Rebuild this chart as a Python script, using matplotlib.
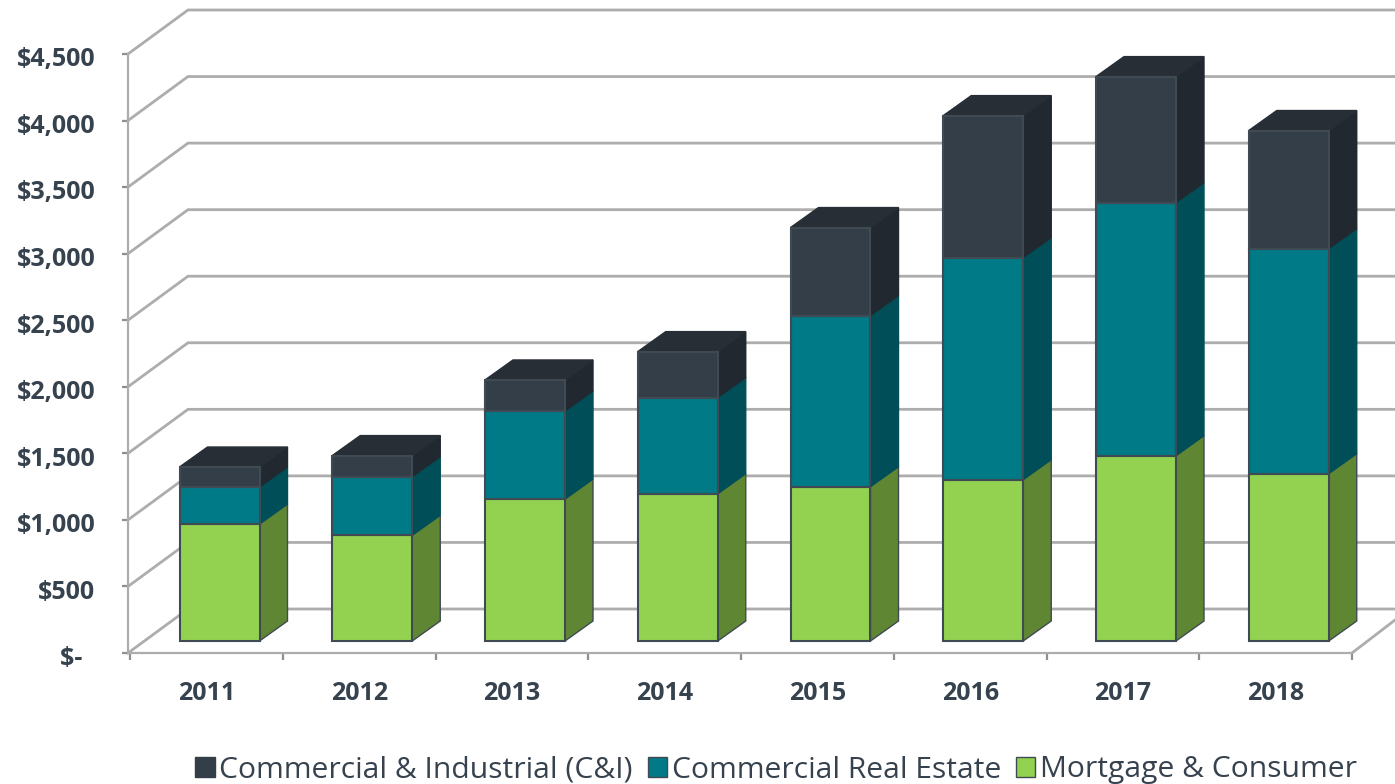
import matplotlib
matplotlib.use("Agg")
import matplotlib.pyplot as plt
from matplotlib.patches import Polygon, Patch
from matplotlib.transforms import ScaledTranslation

years = ["2011", "2012", "2013", "2014", "2015", "2016", "2017", "2018"]
mortgage = [879, 795, 1067, 1107, 1160, 1213, 1393, 1258]
cre = [278, 440, 661, 722, 1285, 1668, 1901, 1690]
cni = [150, 158, 233, 345, 661, 1066, 946, 887]
series_names = ["Mortgage & Consumer", "Commercial Real Estate", "Commercial & Industrial (C&I)"]
y_ticks = [0, 500, 1000, 1500, 2000, 2500, 3000, 3500, 4000, 4500]
y_labels = ["$-  ", "$500", "$1,000", "$1,500", "$2,000", "$2,500", "$3,000", "$3,500", "$4,000", "$4,500"]

W, H = 1395, 784
L, R, B, T = 130, 1352, 653, 54
TEXT = "#36424e"
GRID = "#adadad"
front = ["#93d250", "#007a87", "#343e49"]
side = ["#5f8733", "#004f58", "#21282f"]
top_col = "#272e36"
edge = "#3f4a52"

fig = plt.figure(figsize=(W / 100, H / 100), dpi=100, facecolor="white")
ax = fig.add_axes([L / W, 1 - B / H, (R - L) / W, (B - T) / H])
ax.set_xlim(0, len(years))
ax.set_ylim(0, 4500)
sx = (R - L) / len(years)
sy = (B - T) / 4500
px = lambda d: d / sx
py = lambda d: d / sy

# walls
wall_dx, wall_dy = px(58), py(44)
for v in y_ticks:
    ax.plot([px(-2), wall_dx, px(1395 - L)], [v, v + wall_dy, v + wall_dy],
            color=GRID, lw=2.0, clip_on=False, zorder=1, solid_joinstyle="miter")
ax.plot([len(years), len(years) + px(43)], [0, py(33)], color=GRID, lw=2.0, clip_on=False, zorder=1)

# bars
bar_left, bar_w = px(49.5), px(80)
base = py(12)
dx, dy = px(28), py(20)
for i in range(len(years)):
    x0 = i + bar_left
    x1 = x0 + bar_w
    bottom = base
    for j, vals in enumerate([mortgage, cre, cni]):
        h = vals[i]
        y0, y1 = bottom, bottom + h
        ax.add_patch(Polygon([(x1, y0), (x1 + dx, y0 + dy), (x1 + dx, y1 + dy), (x1, y1)],
                             fc=side[j], ec=edge if j == 0 else side[j], lw=1.0, clip_on=False, zorder=3 + j * 0.1))
        ax.add_patch(Polygon([(x0, y0), (x1, y0), (x1, y1), (x0, y1)],
                             fc=front[j], ec=edge, lw=1.5, clip_on=False, zorder=4 + j * 0.1))
        bottom = y1
    ax.add_patch(Polygon([(x0, bottom), (x1, bottom), (x1 + dx, bottom + dy), (x0 + dx, bottom + dy)],
                         fc=top_col, ec=top_col, lw=1.0, clip_on=False, zorder=3.9))

# axes
for s in ["top", "right"]:
    ax.spines[s].set_visible(False)
ax.spines["left"].set_position(("outward", 1.5))
for s in ["left", "bottom"]:
    ax.spines[s].set_color(GRID)
    ax.spines[s].set_linewidth(1.6)
    ax.spines[s].set_zorder(2)
ax.set_yticks(y_ticks)
ax.set_yticklabels(y_labels, fontfamily="Open Sans", fontweight="bold", fontsize=18, color=TEXT)
ax.tick_params(axis="y", length=4.5, width=1.6, color="#8f8f8f", pad=19)
for lab in ax.get_yticklabels():
    lab.set_transform(lab.get_transform() + ScaledTranslation(0, -2 / 72, fig.dpi_scale_trans))
ax.set_xticks(range(len(years) + 1))
ax.set_xticklabels([""] * (len(years) + 1))
ax.tick_params(axis="x", which="major", length=5, width=1.6, color="#8f8f8f")
ax.set_xticks([i + 0.5 for i in range(len(years))], minor=True)
ax.set_xticklabels(years, minor=True, fontfamily="Open Sans", fontweight="bold", fontsize=18, color=TEXT)
ax.tick_params(axis="x", which="minor", length=0, pad=20)

# legend
handles = [Patch(fc=front[2], ec=front[2]), Patch(fc=front[1], ec=edge), Patch(fc=front[0], ec=edge)]
labels = [series_names[2], series_names[1], series_names[0]]
fig.legend(handles, labels, ncol=3, frameon=False, loc="center", bbox_to_anchor=(776 / W, 1 - 770 / H),
           prop={"family": "Open Sans", "size": 21.6}, labelcolor=TEXT, handlelength=0.65, handleheight=0.65,
           handletextpad=0.15, columnspacing=0.5, borderaxespad=0, borderpad=0)

fig.savefig("out.png", dpi=100, facecolor="white")
